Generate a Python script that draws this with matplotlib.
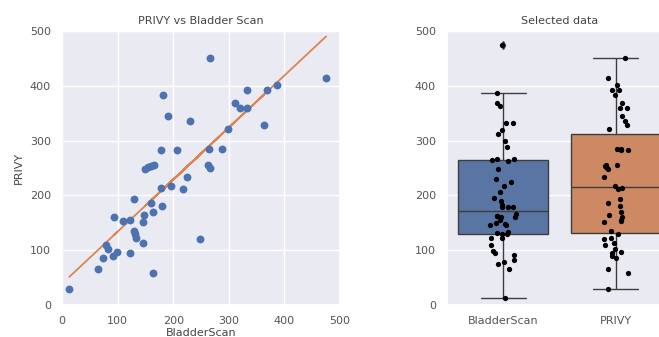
import numpy as np
import pandas as pd
import matplotlib
matplotlib.use("Agg")
import matplotlib.pyplot as plt
import seaborn as sns

bladder_scan = [13, 65, 74, 79, 82, 92, 99, 94, 110, 122, 122, 130, 130, 131, 133,
                146, 146, 148, 163, 160, 163, 179, 178, 196, 217, 224, 248, 150,
                155, 160, 166, 262, 266, 178, 207, 265, 288, 299, 364, 230, 190,
                182, 266, 312, 320, 332, 332, 368, 386, 475]
privy = [30, 66, 86, 110, 102, 90, 97, 161, 153, 156, 95, 193, 135, 129, 123,
         114, 151, 164, 59, 187, 170, 180, 214, 217, 211, 234, 121, 248,
         252, 254, 256, 255, 250, 283, 283, 284, 285, 322, 328, 335, 344,
         384, 450, 368, 359, 360, 392, 392, 401, 415]

title_left = "PRIVY vs Bladder Scan"
title_right = "Selected data"
xlabel_left = "BladderScan"
ylabel_left = "PRIVY"
ticks = [0, 100, 200, 300, 400, 500]

sns.set_theme(style="darkgrid")
plt.rcParams['font.family'] = ['DejaVu Sans']

W, H = 659, 337
fig = plt.figure(figsize=(W / 100, H / 100), dpi=100)

ax1 = fig.add_axes([62 / W, (H - 305) / H, 278 / W, 274 / H])
x = np.array(bladder_scan, dtype=float)
y = np.array(privy, dtype=float)
ax1.scatter(x, y, s=32, color="#4c72b0", zorder=3, linewidths=0)
m, b = np.polyfit(x, y, 1)
ax1.plot(x, m * x + b, color="#dd8452", lw=1.3, zorder=2)
ax1.set_xlim(0, 500)
ax1.set_ylim(0, 500)
ax1.set_xticks(ticks)
ax1.set_yticks(ticks)
ax1.tick_params(labelsize=8, colors="#555555", pad=2)
ax1.set_title(title_left, fontsize=8, color="#444444", pad=5)
ax1.set_xlabel(xlabel_left, fontsize=8, color="#444444", labelpad=1)
ax1.set_ylabel(ylabel_left, fontsize=8, color="#444444", labelpad=4)

ax2 = fig.add_axes([447 / W, (H - 305) / H, 225 / W, 274 / H])
df = pd.DataFrame({"BladderScan": bladder_scan, "PRIVY": privy})
long = df.melt(var_name="var", value_name="val")
sns.boxplot(data=long, x="var", y="val", hue="var", palette=["#4c72b0", "#dd8452"],
            ax=ax2, legend=False, linecolor="#3d3d3d", linewidth=1.0,
            flierprops=dict(marker="d", markersize=4, markerfacecolor="#3d3d3d",
                            markeredgecolor="#3d3d3d"))
np.random.seed(3)
sns.stripplot(data=long, x="var", y="val", color="black", size=3.8, jitter=0.12,
              ax=ax2)
ax2.set_xlim(-0.5, 1.5)
ax2.set_ylim(0, 500)
ax2.set_yticks(ticks)
ax2.set_xlabel("")
ax2.set_ylabel("")
ax2.tick_params(labelsize=8, colors="#555555", pad=2)
ax2.set_title(title_right, fontsize=8, color="#444444", pad=5)

fig.savefig("out.png", dpi=100)
